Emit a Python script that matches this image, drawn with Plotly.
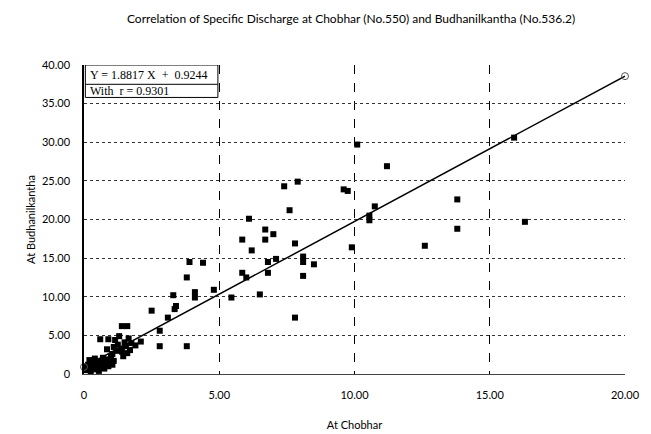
import plotly.graph_objects as go

title_text = "Correlation of Specific Discharge at Chobhar (No.550) and Budhanilkantha (No.536.2)"
x_label = "At Chobhar"
y_label = "At Budhanilkantha"

x_ticks = [0, 5, 10, 15, 20]
x_ticktext = ["0", "5.00", "10.00", "15.00", "20.00"]
y_ticks = [0, 5, 10, 15, 20, 25, 30, 35, 40]
y_ticktext = ["0", "5.00", "10.00", "15.00", "20.00", "25.00", "30.00", "35.00", "40.00"]

chobhar = [
    7.4, 7.9, 9.6, 9.75, 7.6, 6.1, 6.7, 7.0, 5.85, 6.7, 6.2, 7.8, 9.9, 10.55, 10.55, 10.75,
    3.9, 4.4, 6.8, 6.8, 7.1, 8.1, 8.1, 8.5, 5.85, 6.0, 8.1, 3.8, 4.1, 4.1, 4.8, 5.45, 6.5,
    7.8, 11.2, 15.9, 13.8, 13.8, 12.6, 16.3, 10.1, 3.3, 3.4, 3.35, 2.5, 3.1, 2.8, 2.8, 3.8,
    1.4, 1.6, 0.6, 0.9, 1.7, 1.45,
    1.15, 1.25, 1.3, 1.35, 1.5, 1.55, 1.65, 1.2, 1.75, 1.4, 1.05, 1.1, 0.85, 1.9, 2.1, 1.6,
    0.1, 0.15, 0.2, 0.3, 0.35, 0.4, 0.45, 0.5, 0.55, 0.6, 0.65, 0.7, 0.75, 0.8, 0.85, 0.9,
    0.95, 1.0, 1.05, 0.25, 0.05, 0.7, 0.55, 1.1, 0.3,
]
budhanilkantha = [
    24.3, 24.9, 23.9, 23.7, 21.2, 20.1, 18.7, 18.1, 17.4, 17.4, 16.0, 16.9, 16.4, 20.5, 19.9, 21.7,
    14.5, 14.4, 14.5, 13.1, 14.9, 15.2, 14.5, 14.2, 13.1, 12.5, 12.7, 12.5, 10.6, 9.9, 10.9, 9.9, 10.3,
    7.3, 26.9, 30.6, 22.6, 18.8, 16.6, 19.7, 29.7, 10.2, 8.8, 8.4, 8.2, 7.3, 5.6, 3.6, 3.6,
    6.2, 6.2, 4.5, 4.5, 3.1, 2.3,
    4.4, 3.8, 4.9, 3.3, 4.1, 3.6, 4.6, 3.0, 4.0, 2.9, 2.6, 3.5, 3.2, 3.7, 4.2, 2.7,
    0.5, 1.2, 1.8, 0.8, 1.5, 2.0, 0.6, 1.1, 1.7, 0.9, 1.4, 2.1, 0.7, 1.3, 1.9, 1.0,
    1.6, 2.2, 1.2, 0.3, 1.0, 1.8, 0.4, 1.7, 1.7,
]

slope = 1.8817
intercept = 0.9244
r_value = 0.9301
fit_x = [0, 20]
fit_y = [slope * v + intercept for v in fit_x]

fig = go.Figure()
fig.add_trace(go.Scatter(
    x=chobhar, y=budhanilkantha, mode="markers",
    marker=dict(symbol="square", size=6, color="black"),
    showlegend=False, cliponaxis=False,
))
fig.add_trace(go.Scatter(
    x=fit_x, y=fit_y, mode="lines+markers",
    line=dict(color="black", width=1.5),
    marker=dict(symbol="circle-open", size=7, color="#555555", line=dict(width=1)),
    showlegend=False, cliponaxis=False,
))

# equation box
fig.add_shape(type="rect", xref="x", yref="y", x0=0.05, x1=4.95, y0=35.8, y1=40,
              line=dict(color="black", width=1), fillcolor="white", layer="above")
fig.add_shape(type="line", xref="x", yref="y", x0=0.05, x1=4.95, y0=37.5, y1=37.5,
              line=dict(color="black", width=1), layer="above")
fig.add_annotation(x=0.15, y=38.75, xref="x", yref="y", xanchor="left", yanchor="middle",
                   text=f"Y = {slope} X  +  {intercept}", showarrow=False,
                   font=dict(family="Liberation Serif", size=12, color="black"))
fig.add_annotation(x=0.15, y=36.6, xref="x", yref="y", xanchor="left", yanchor="middle",
                   text=f"With  r = {r_value}", showarrow=False,
                   font=dict(family="Liberation Serif", size=12, color="black"))

fig.update_layout(
    width=651, height=434,
    margin=dict(l=76, r=34, t=57, b=68, autoexpand=False),
    paper_bgcolor="white", plot_bgcolor="white",
    font=dict(family="Lato", size=11, color="black"),
    title=dict(text=title_text, x=0.527, xanchor="center", y=0.975, yanchor="middle",
               font=dict(family="Lato", size=12, color="black")),
)
fig.update_xaxes(
    range=[0, 20], tickvals=x_ticks, ticktext=x_ticktext, automargin=False,
    showgrid=True, gridcolor="black", gridwidth=1, griddash="dash",
    showline=True, linecolor="#444444", linewidth=1, zeroline=False,
    ticks="", ticklabelstandoff=11,
    title=dict(text=x_label, standoff=21, font=dict(size=11)),
    tickfont=dict(size=11),
)
fig.update_yaxes(
    range=[0, 40], tickvals=y_ticks, ticktext=y_ticktext, automargin=False,
    showgrid=True, gridcolor="#333333", gridwidth=1, griddash="dot",
    showline=True, linecolor="black", linewidth=1.5, zeroline=False,
    ticks="", ticklabelstandoff=10,
    title=dict(text=y_label, standoff=4, font=dict(size=11)),
    tickfont=dict(size=11),
)

fig.write_html("out.html")
